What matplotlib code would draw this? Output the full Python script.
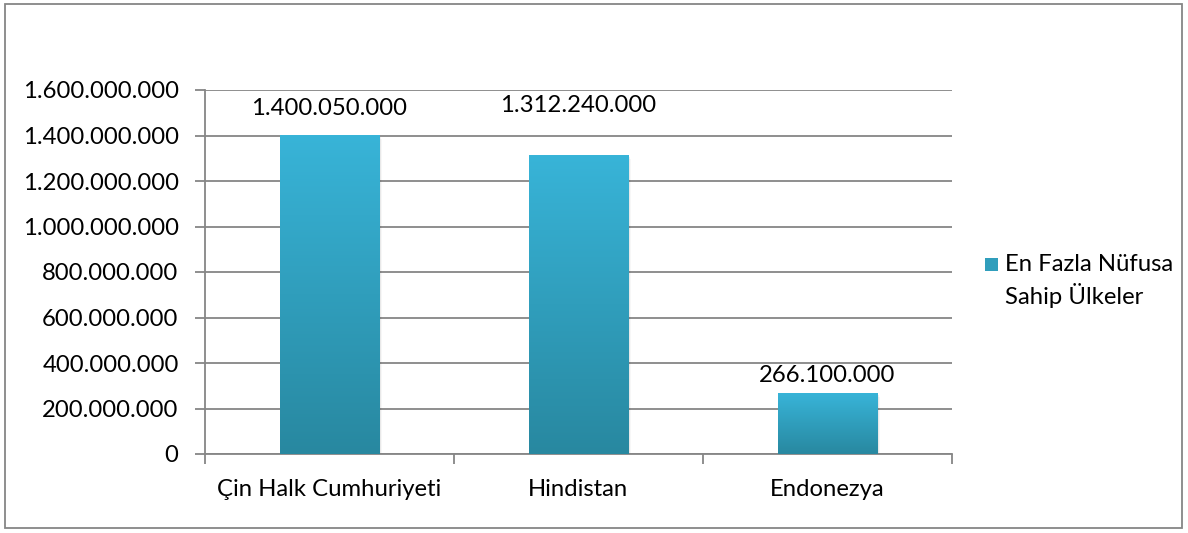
import numpy as np
import matplotlib.pyplot as plt
from matplotlib.patches import Rectangle
from matplotlib.ticker import FuncFormatter, MultipleLocator

plt.rcParams['font.family'] = ['Lato', 'DejaVu Sans']

countries = ['Çin Halk Cumhuriyeti', 'Hindistan', 'Endonezya']
population = [1400050000, 1312240000, 266100000]
series_name = 'En Fazla Nüfusa\nSahip Ülkeler'

# how far each value label sits above its bar (pixels)
label_lift = [27, 50, 18]

fs = 17.2

fig = plt.figure(figsize=(11.88, 5.33), dpi=100)
ax = fig.add_axes([205 / 1188, 1 - 454 / 533, 747 / 1188, 364 / 533])

grey = '#868686'
top_col = np.array([0x38, 0xB4, 0xD8]) / 255
bot_col = np.array([0x28, 0x88, 0xA0]) / 255

x = np.arange(len(countries))
bars = ax.bar(x, population, width=0.4, color='none', zorder=3)

# vertical gradient fill clipped to each bar
grad = np.linspace(0, 1, 256)[:, None, None]
img = top_col * (1 - grad) + bot_col * grad
for b in bars:
    x0, w, h = b.get_x(), b.get_width(), b.get_height()
    # soft drop shadow
    for k, a in enumerate([0.10, 0.06, 0.03]):
        s = Rectangle((x0 + 0.004 * (k + 1), -1e7), w, h + 1e7 - 8e6 * k,
                      facecolor='black', alpha=a, lw=0, zorder=2)
        ax.add_patch(s)
    im = ax.imshow(img, extent=[x0, x0 + w, 0, h], aspect='auto', zorder=3,
                   origin='upper')
    im.set_clip_path(b)

for xi, v, lift in zip(x, population, label_lift):
    ax.annotate(f'{v:,}'.replace(',', '.'), (xi, v), xytext=(0, lift * 0.72),
                textcoords='offset points', ha='center', va='center',
                fontsize=fs, color='black')

ax.set_xlim(-0.5, len(countries) - 0.5)
ax.set_ylim(0, 1.6e9)
ax.yaxis.set_major_locator(MultipleLocator(2e8))
ax.yaxis.set_major_formatter(FuncFormatter(lambda v, p: f'{int(v):,}'.replace(',', '.')))
ax.grid(axis='y', color=grey, lw=1.3, zorder=1)
ax.set_axisbelow(True)

ax.set_xticks(x)
ax.set_xticklabels(countries)
ax.set_xticks(np.arange(len(countries) + 1) - 0.5, minor=True)
ax.tick_params(axis='x', which='major', length=0, pad=18, labelsize=fs)
ax.tick_params(axis='x', which='minor', length=7, width=1.3, color=grey)
ax.tick_params(axis='y', length=7, width=1.3, color=grey, labelsize=fs, pad=12)

for side in ['top', 'right']:
    ax.spines[side].set_visible(False)
for side in ['left', 'bottom']:
    ax.spines[side].set_color(grey)
    ax.spines[side].set_linewidth(1.3)

# legend entry on the right
fig.patches.append(Rectangle((985 / 1188, 1 - 271 / 533), 13 / 1188, 13 / 533,
                             transform=fig.transFigure, facecolor=top_col * 0.5 + bot_col * 0.5,
                             edgecolor='none'))
fig.text(1005 / 1188, 1 - 281 / 533, series_name, fontsize=fs, va='center',
         ha='left', linespacing=1.4)

# chart border
fig.patches.append(Rectangle((5 / 1188, 5 / 533), 1177 / 1188, 524 / 533,
                             transform=fig.transFigure, fill=False,
                             edgecolor=grey, lw=1.3))

fig.savefig('out.png', dpi=100)
